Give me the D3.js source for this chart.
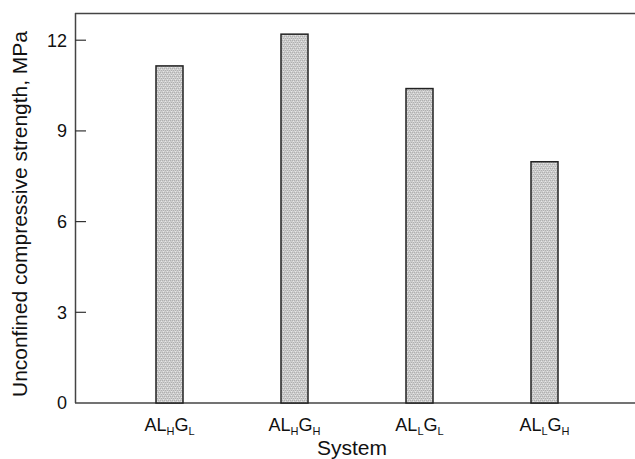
<!DOCTYPE html>
<html><head><meta charset="utf-8">
<script src="https://cdn.jsdelivr.net/npm/d3@7"></script>
<style>body{margin:0;background:#fff}svg{display:block;font-family:"Liberation Sans",Arial,sans-serif}</style>
</head><body>
<svg id="c" width="635" height="459"></svg>
<script>
const categories = [["AL","H","G","L"],["AL","H","G","H"],["AL","L","G","L"],["AL","L","G","H"]];
const values = [11.15, 12.2, 10.4, 7.98];
const yTicks = [0, 3, 6, 9, 12];

const svg = d3.select("#c");
const y = d3.scaleLinear().domain([0, 12.9]).range([403, 13]);
const x = d3.scaleBand().domain(d3.range(values.length)).range([107, 607]).paddingInner(0.784).paddingOuter(0.392);

const defs = svg.append("defs");
const pat = defs.append("pattern").attr("id","dots").attr("width",4).attr("height",4).attr("patternUnits","userSpaceOnUse");
pat.append("rect").attr("width",4).attr("height",4).attr("fill","#cdcdcd");
[[0,0],[2,0],[1,2],[3,2]].forEach(([a,b])=>pat.append("rect").attr("x",a).attr("y",b).attr("width",1).attr("height",1).attr("fill","#b0b0b0"));
[[1,1],[3,3]].forEach(([a,b])=>pat.append("rect").attr("x",a).attr("y",b).attr("width",1).attr("height",1).attr("fill","#e6e6e6"));

// frame
svg.append("line").attr("x1",75).attr("x2",635).attr("y1",13.5).attr("y2",13.5).attr("stroke","#444").attr("stroke-width",1.5);
svg.append("line").attr("x1",75).attr("x2",635).attr("y1",y(0)).attr("y2",y(0)).attr("stroke","#444").attr("stroke-width",1.5);
svg.append("line").attr("x1",75.5).attr("x2",75.5).attr("y1",13).attr("y2",y(0)).attr("stroke","#444").attr("stroke-width",1.5);

// bars
svg.selectAll("rect.bar").data(values).join("rect").attr("class","bar")
  .attr("x",(d,i)=>x(i)).attr("width",x.bandwidth())
  .attr("y",d=>y(d)).attr("height",d=>y(0)-y(d))
  .attr("fill","url(#dots)").attr("stroke","#222").attr("stroke-width",1.5);

// y ticks inside
const ya = svg.append("g");
yTicks.forEach(t=>{
  if(t>0) ya.append("line").attr("x1",75).attr("x2",86).attr("y1",y(t)).attr("y2",y(t)).attr("stroke","#333").attr("stroke-width",1.2);
  ya.append("text").attr("x",67).attr("y",y(t)).attr("dy","0.36em").attr("text-anchor","end").attr("font-size",18).attr("fill","#111").text(t);
});

// x labels
categories.forEach((c,i)=>{
  const t = svg.append("text").attr("x",x(i)+x.bandwidth()/2).attr("y",431).attr("text-anchor","middle").attr("font-size",18).attr("fill","#111");
  t.append("tspan").text(c[0]);
  t.append("tspan").attr("font-size",11).attr("dy",4).text(c[1]);
  t.append("tspan").attr("dy",-4).text(c[2]);
  t.append("tspan").attr("font-size",11).attr("dy",4).text(c[3]);
});

svg.append("text").attr("x",352).attr("y",455).attr("text-anchor","middle").attr("font-size",20)
  .attr("textLength",70).attr("lengthAdjust","spacingAndGlyphs").attr("fill","#111").text("System");
svg.append("text").attr("transform","translate(27,214) rotate(-90)").attr("text-anchor","middle").attr("font-size",20)
  .attr("textLength",366).attr("lengthAdjust","spacingAndGlyphs").attr("fill","#111").text("Unconfined compressive strength, MPa");
</script>
</body></html>
